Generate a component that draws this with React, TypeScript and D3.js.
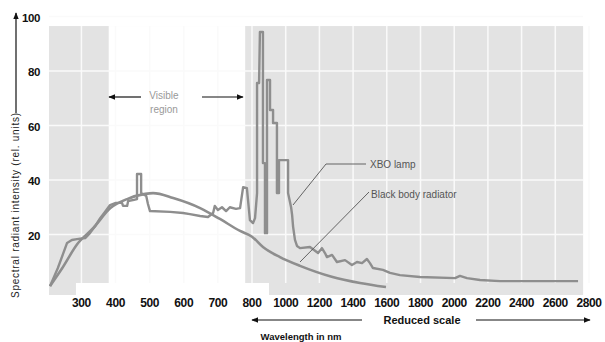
import React from "react";
import * as d3 from "d3";

// XBO lamp spectrum (wavelength nm, relative intensity)
const xboNm = [208, 231, 258, 272, 287, 311, 325, 340, 355, 369, 384, 401, 419, 422, 434, 437, 454, 463, 463, 475, 475, 490, 495, 501, 560, 598, 618, 648, 671, 686, 691, 700, 712, 724, 735, 753, 765, 774, 785, 794, 806, 818, 830, 830, 842, 847, 865, 865, 877, 877, 889, 889, 907, 907, 925, 925, 948, 948, 960, 960, 1014, 1014, 1032, 1038, 1044, 1055, 1067, 1085, 1144, 1168, 1192, 1215, 1233, 1245, 1275, 1304, 1352, 1393, 1423, 1453, 1482, 1500, 1518, 1577, 1619, 1678, 1797, 2005, 2034, 2076, 2153, 2272, 2735];
const xboVal = [1, 7.7, 16.9, 18, 18.3, 18.7, 20.5, 23, 26, 28.3, 30.8, 31.6, 31.6, 30.5, 30.5, 32.3, 32.7, 33, 42.2, 42.2, 35.2, 34.1, 31.2, 28.6, 28.3, 27.9, 27.5, 26.8, 26.4, 27.9, 30.5, 29, 30, 28.6, 30, 29.4, 29.7, 37.4, 37, 25.3, 24.2, 26, 35.2, 75.6, 75.6, 94.3, 94.3, 46.2, 46.2, 20.5, 20.5, 76.7, 76.7, 65.7, 65.7, 60.9, 60.9, 35.2, 35.2, 47.3, 47.3, 35.2, 30, 27.2, 22.8, 18, 15.8, 15, 15.4, 14.3, 13.2, 15, 13.2, 11.7, 12.5, 9.9, 10.6, 8.8, 9.9, 9.5, 11, 9.5, 7.7, 7, 5.9, 5.1, 4.4, 4, 4.8, 4, 3.3, 2.9, 2.9];

// Black body radiator curve
const bbNm = [208, 244, 288, 335, 385, 434, 487, 510, 569, 648, 706, 765, 800, 865, 966, 1085, 1273, 1441, 1595];
const bbVal = [1.1, 7.7, 16.5, 22.4, 29.7, 33, 34.9, 35.2, 33.4, 29.7, 25.7, 21.3, 19.2, 15.4, 11.7, 8.5, 4.5, 2.2, 0.7];

const xTicks = [300, 400, 500, 600, 700, 800, 1000, 1200, 1400, 1600, 1800, 2000, 2200, 2400, 2600, 2800];
const yTicks = [20, 40, 60, 80, 100];
const visibleRange = [380, 780];

const W = 605;
const H = 342;

const App: React.FC = () => {
  // piecewise scale: normal up to 800 nm, reduced (half) scale beyond
  const x = d3.scaleLinear().domain([205, 800, 2800]).range([49, 252, 589]);
  const y = d3.scaleLinear().domain([0, 100]).range([289, 16.5]);

  const plotLeft = x(205);
  const plotRight = x(2765);
  const plotTop = y(96.5);
  const plotBottom = y(-2.2);

  const line = d3
    .line<[number, number]>()
    .x((d) => x(d[0]))
    .y((d) => y(d[1]));

  const smooth = d3
    .line<[number, number]>()
    .x((d) => x(d[0]))
    .y((d) => y(d[1]))
    .curve(d3.curveMonotoneX);

  const xbo = xboNm.map((n, i) => [n, xboVal[i]] as [number, number]);
  const bb = bbNm.map((n, i) => [n, bbVal[i]] as [number, number]);

  const lineColor = "#8e8e8e";
  const font = "'Liberation Sans', Arial, sans-serif";

  return (
    <svg
      width={W}
      height={H}
      style={{ position: "absolute", left: 0, top: 0, background: "#fff" }}
      fontFamily={font}
    >
      <defs>
        <marker id="ah" viewBox="0 0 10 10" refX="9" refY="5" markerWidth="7" markerHeight="7" markerUnits="userSpaceOnUse" orient="auto">
          <path d="M0,1 L10,5 L0,9 z" fill="#111" />
        </marker>
      </defs>

      {/* gray background, white visible region */}
      <rect x={plotLeft} y={plotTop} width={plotRight - plotLeft} height={plotBottom - plotTop} fill="#e3e3e3" />
      <rect x={x(visibleRange[0])} y={plotTop} width={x(visibleRange[1]) - x(visibleRange[0])} height={plotBottom - plotTop} fill="#fff" />
      <rect x={x(284)} y={283} width={x(901) - x(284)} height={plotBottom - 283 + 1} fill="#fff" />

      {/* grid */}
      {xTicks.map((t) => (
        <line key={"gx" + t} x1={x(t)} x2={x(t)} y1={plotTop} y2={283} stroke="#fafafa" strokeWidth={1.5} />
      ))}
      {yTicks.map((t) => (
        <line key={"gy" + t} x1={plotLeft} x2={plotRight} y1={y(t)} y2={y(t)} stroke="#fafafa" strokeWidth={1.5} />
      ))}

      {/* curves */}
      <path d={smooth(bb) || ""} fill="none" stroke={lineColor} strokeWidth={2.6} />
      <path d={line(xbo) || ""} fill="none" stroke={lineColor} strokeWidth={2.4} strokeLinejoin="round" />

      {/* y axis */}
      <line x1={16} x2={16} y1={113} y2={13} stroke="#111" strokeWidth={1.2} markerEnd="url(#ah)" />
      <text
        transform="translate(19,298) rotate(-90)"
        fontSize={10}
        fill="#222"
        textLength={185}
      >
        Spectral radiant intensity (rel. units)
      </text>
      {yTicks.map((t) => (
        <text key={"yl" + t} x={40} y={y(t) + 5} textAnchor="end" fontSize={11.5} fontWeight="bold" fill="#111" letterSpacing={-0.4}>
          {t}
        </text>
      ))}

      {/* x axis labels */}
      {xTicks.map((t) => (
        <text key={"xl" + t} x={x(t)} y={307} textAnchor="middle" fontSize={12} fontWeight="bold" fill="#111" letterSpacing={-0.4}>
          {t}
        </text>
      ))}
      <line x1={362} x2={252} y1={320} y2={320} stroke="#111" strokeWidth={1.2} markerEnd="url(#ah)" />
      <text x={422} y={324} textAnchor="middle" fontSize={11} fontWeight="bold" fill="#111">
        Reduced scale
      </text>
      <line x1={476} x2={590} y1={320} y2={320} stroke="#111" strokeWidth={1.2} markerEnd="url(#ah)" />
      <text x={301} y={340} textAnchor="middle" fontSize={9.5} fontWeight="bold" fill="#111">
        Wavelength in nm
      </text>

      {/* visible region annotation */}
      <line x1={141} x2={109} y1={97} y2={97} stroke="#111" strokeWidth={1.2} markerEnd="url(#ah)" />
      <line x1={202} x2={243} y1={97} y2={97} stroke="#111" strokeWidth={1.2} markerEnd="url(#ah)" />
      <text x={164} y={99} textAnchor="middle" fontSize={10} fill="#999">
        Visible
      </text>
      <text x={164} y={113} textAnchor="middle" fontSize={10} fill="#999">
        region
      </text>

      {/* series labels */}
      <polyline points="366,164 326,164 293,205" fill="none" stroke="#555" strokeWidth={0.9} />
      <text x={370} y={168} fontSize={10} fill="#555">
        XBO lamp
      </text>
      <line x1={369} x2={300} y1={192} y2={262} stroke="#555" strokeWidth={0.9} />
      <text x={371} y={198} fontSize={10} fill="#555">
        Black body radiator
      </text>
    </svg>
  );
};

export default App;
